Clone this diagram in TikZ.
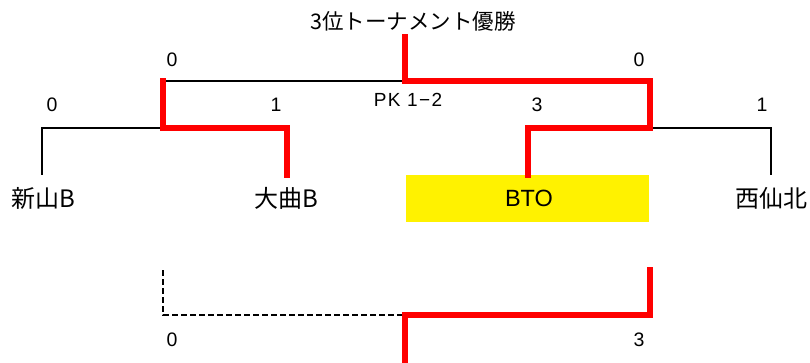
\documentclass[tikz,border=0pt]{standalone}
\usepackage{fontspec}
\setmainfont{Liberation Sans}
\newfontfamily\jp{Noto Sans CJK JP}
\newfontfamily\pkfont[LetterSpace=7]{Liberation Sans}
\begin{document}
\begin{tikzpicture}[x=1pt,y=-1pt,
  win/.style={draw=red,line width=6pt,line join=miter,line cap=rect},
  lose/.style={draw=black,line width=2.6pt,line join=miter},
  lost/.style={draw=black,line width=2.4pt,dashed,dash pattern=on 6pt off 3pt},
  score/.style={font=\fontsize{19.5}{19.5}\selectfont,inner sep=0pt},
  team/.style={font=\jp\fontsize{24}{24}\selectfont,inner sep=0pt}]
\useasboundingbox (0,0) rectangle (810,363);
% coordinates
\coordinate (top) at (405,37);
\coordinate (fin) at (405,81);
\coordinate (sfL) at (163,81);
\coordinate (sfR) at (650,81);
\coordinate (qL) at (163,128);
\coordinate (qR) at (650,128);
\coordinate (aL) at (42,128);
\coordinate (bL) at (287,128);
\coordinate (cL) at (528,128);
\coordinate (dL) at (771,128);
\coordinate (a) at (42,175);
\coordinate (b) at (287,175);
\coordinate (c) at (528,175);
\coordinate (d) at (771,175);
\coordinate (lb1) at (163,270);
\coordinate (lb2) at (163,315);
\coordinate (rb1) at (650,270);
\coordinate (rb2) at (650,315);
\coordinate (mb) at (405,315);
\coordinate (mbe) at (405,363);
% yellow box
\node[fill=yellow,minimum width=243pt,minimum height=47pt,inner sep=0pt,anchor=north west] (bto) at (406,175) {};
\node[font=\fontsize{23.5}{23.5}\selectfont,inner sep=0pt] (btot) at (529,198) {BTO};
% texts
\node[team,font=\jp\fontsize{21.5}{21.5}\selectfont] (title) at (413,21) {3位トーナメント優勝};
\node[team] (t1) at (43,198) {新山B};
\node[team] (t2) at (286,198) {大曲B};
\node[team] (t4) at (771,198) {西仙北};
\node[score] (s1) at (172,60) {0};
\node[score] (s2) at (639,60) {0};
\node[score] (s3) at (52,105) {0};
\node[score] (s4) at (276,105) {1};
\node[score] (s5) at (537,105) {3};
\node[score] (s6) at (762,105) {1};
\node[score,font=\pkfont\fontsize{19}{19}\selectfont] (pk) at (408,100) {PK 1−2};
\node[score] (s7) at (172,340) {0};
\node[score] (s8) at (639,340) {3};
% black lines
\draw[lose] (sfL) -- (fin);
\draw[lose] (a) -- (aL) -- (qL);
\draw[lose] (qR) -- (dL) -- (d);
% red lines
\draw[win] (top) -- (fin) -- (sfR) -- (qR) -- (cL) -- (c);
\draw[win] (sfL) -- (qL) -- (bL) -- (b);
% bottom
\draw[lost] (lb1) -- (lb2) -- (mb);
\draw[win] (rb1) -- (rb2) -- (mb) -- (mbe);
\end{tikzpicture}
\end{document}
